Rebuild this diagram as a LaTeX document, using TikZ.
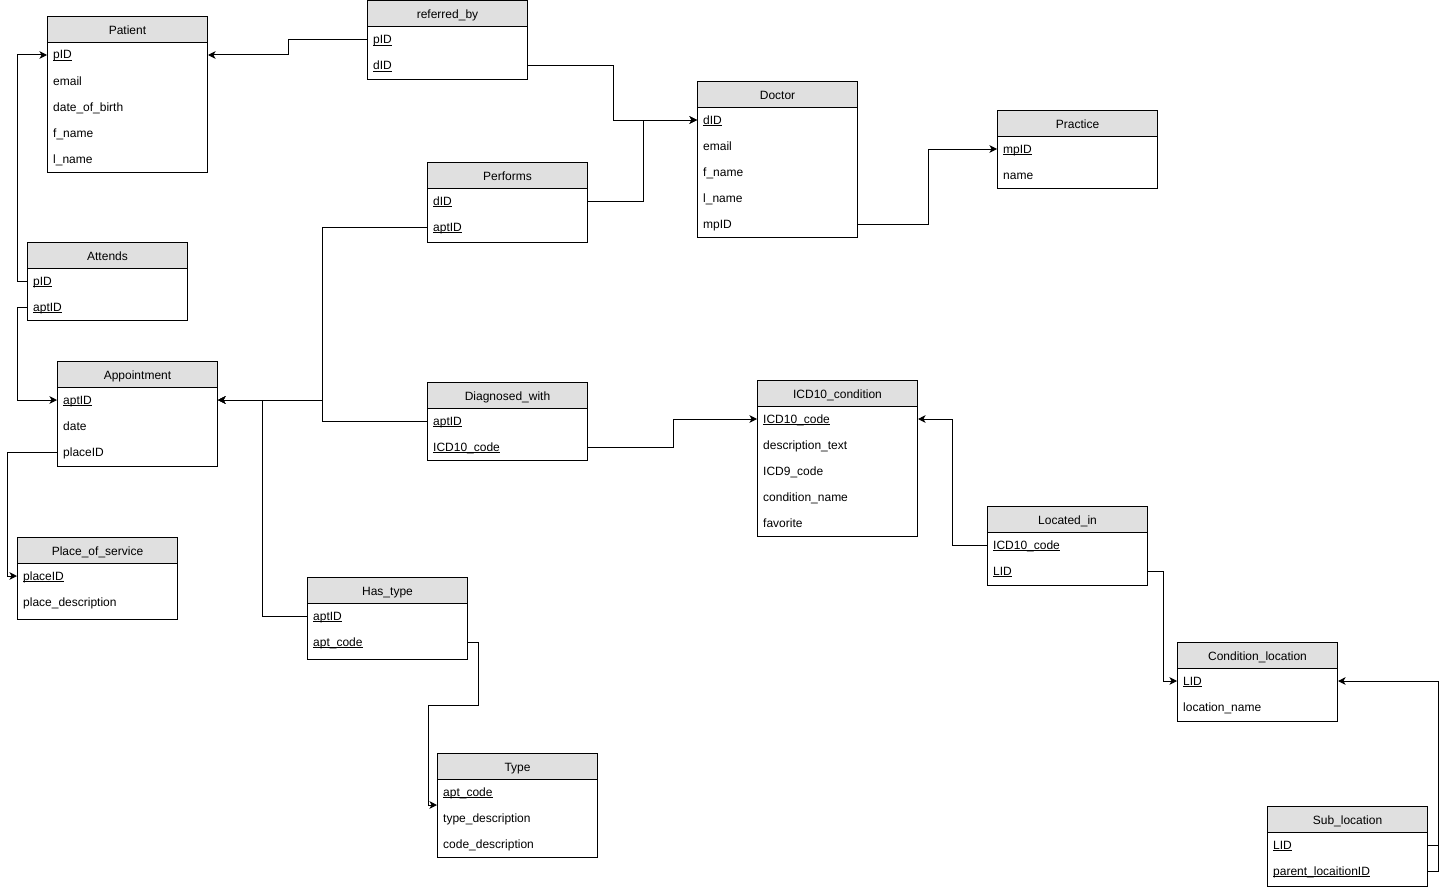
\documentclass[tikz,border=0pt]{standalone}
\usepackage{fontspec}
\setmainfont{Liberation Sans}
\usetikzlibrary{arrows.meta}
\definecolor{hdrgray}{RGB}{224,224,224}
\definecolor{linecol}{RGB}{0,0,0}
\newcommand\ulx[1]{\setbox0\hbox{#1}\rlap{\rule[-2pt]{\wd0}{0.7pt}}\box0}
\newcommand\ertable[6]{%
  \node[hdr, anchor=north west] (#1-h) at (#2,#3) {#5};
  \node[bdy, anchor=north west, minimum height=#4pt-26pt] (#1-b) at (#2,#3+26) {};
  \foreach [count=\i] \rw in {#6} {
    \node[rowtxt, anchor=west] (#1-\i) at (#2+6,#3+26+13+26*\i-26) {\rw};
  }
}
\begin{document}
\begin{tikzpicture}[x=1pt,y=-1pt,
  txt/.style={font=\fontsize{12}{14}\selectfont, text height=10pt, text depth=2pt},
  hdr/.style={font=\fontsize{12}{14}\selectfont, text height=11pt, text depth=1pt, draw=linecol, line width=1pt, fill=hdrgray, minimum width=160pt, minimum height=26pt, inner sep=0pt},
  bdy/.style={draw=linecol, line width=1pt, fill=white, minimum width=160pt, inner sep=0pt},
  rowtxt/.style={txt, inner sep=0pt},
  fk/.style={draw=linecol, line width=1pt, -{Stealth[length=7.5pt,width=7.5pt,inset=2pt]}},
  ln/.style={draw=linecol, line width=1pt}]
\fill[white] (0,0) rectangle (1447,891);
\useasboundingbox (0,0) rectangle (1447,891);

\ertable{pat}{47}{16}{156}{Patient}{\ulx{pID},email,date\_of\_birth,f\_name,l\_name}
\ertable{ref}{367}{0.5}{78}{referred\_by}{\ulx{pID},\ulx{dID}}
\ertable{doc}{697}{81}{156}{Doctor}{\ulx{dID},email,f\_name,l\_name,mpID}
\ertable{pr}{997}{110}{78}{Practice}{\ulx{mpID},name}
\ertable{perf}{427}{162}{80}{Performs}{\ulx{dID},\ulx{aptID}}
\ertable{att}{27}{242}{78}{Attends}{\ulx{pID},\ulx{aptID}}
\ertable{apt}{57}{361}{105}{Appointment}{\ulx{aptID},date,placeID}
\ertable{diag}{427}{382}{78}{Diagnosed\_with}{\ulx{aptID},\ulx{ICD10\_code}}
\ertable{icd}{757}{380}{156}{ICD10\_condition}{\ulx{ICD10\_code},description\_text,ICD9\_code,condition\_name,favorite}
\ertable{pos}{17}{537}{82}{Place\_of\_service}{\ulx{placeID},place\_description}
\ertable{has}{307}{577}{82}{Has\_type}{\ulx{aptID},\ulx{apt\_code}}
\ertable{loc}{987}{506}{79}{Located\_in}{\ulx{ICD10\_code},\ulx{LID}}
\ertable{typ}{437}{753}{104}{Type}{\ulx{apt\_code},type\_description,code\_description}
\ertable{cl}{1177}{642}{79}{Condition\_location}{\ulx{LID},location\_name}
\ertable{sub}{1267}{806}{80}{Sub\_location}{\ulx{LID},\ulx{parent\_locaitionID}}

\path (typ-b.west|-typ-1) ++(0,13) coordinate (typ-in);

% referred_by
\draw[fk] (ref-b.west|-ref-1) -- ++(-79,0) |- (pat-b.east|-pat-1);
\draw[fk] (ref-b.east|-ref-2) -- ++(85,0) |- (doc-b.west|-doc-1);
% Performs
\draw[fk] (perf-b.east|-perf-1) -- ++(55,0) |- (doc-b.west|-doc-1);
\draw[fk] (perf-b.west|-perf-2) -- ++(-105,0) |- (apt-b.east|-apt-1);
% Diagnosed_with
\draw[fk] (diag-b.west|-diag-1) -- ++(-105,0) |- (apt-b.east|-apt-1);
\draw[fk] (diag-b.east|-diag-2) -- ++(85,0) |- (icd-b.west|-icd-1);
% Has_type
\draw[fk] (has-b.west|-has-1) -- ++(-45,0) |- (apt-b.east|-apt-1);
\draw[fk] (has-b.east|-has-2) -- ++(10,0) -- ++(0,63) -- ++(-50,0) |- (typ-in);
% Attends
\draw[fk] (att-b.west|-att-1) -- ++(-10,0) |- (pat-b.west|-pat-1);
\draw[fk] (att-b.west|-att-2) -- ++(-10,0) |- (apt-b.west|-apt-1);
% Appointment -> Place_of_service
\draw[fk] (apt-b.west|-apt-3) -- ++(-50,0) |- (pos-b.west|-pos-1);
% Doctor -> Practice
\draw[fk] (doc-b.east|-doc-5) -- ++(70,0) |- (pr-b.west|-pr-1);
% Located_in
\draw[fk] (loc-b.west|-loc-1) -- ++(-35,0) |- (icd-b.east|-icd-1);
\draw[fk] (loc-b.east|-loc-2) -- ++(15,0) |- (cl-b.west|-cl-1);
% Sub_location
\draw[fk] (sub-b.east|-sub-1) -- ++(10,0) |- (cl-b.east|-cl-1);
\draw[ln] (sub-b.east|-sub-2) -- ++(10,0) -- ++(0,-26);
\end{tikzpicture}
\end{document}
